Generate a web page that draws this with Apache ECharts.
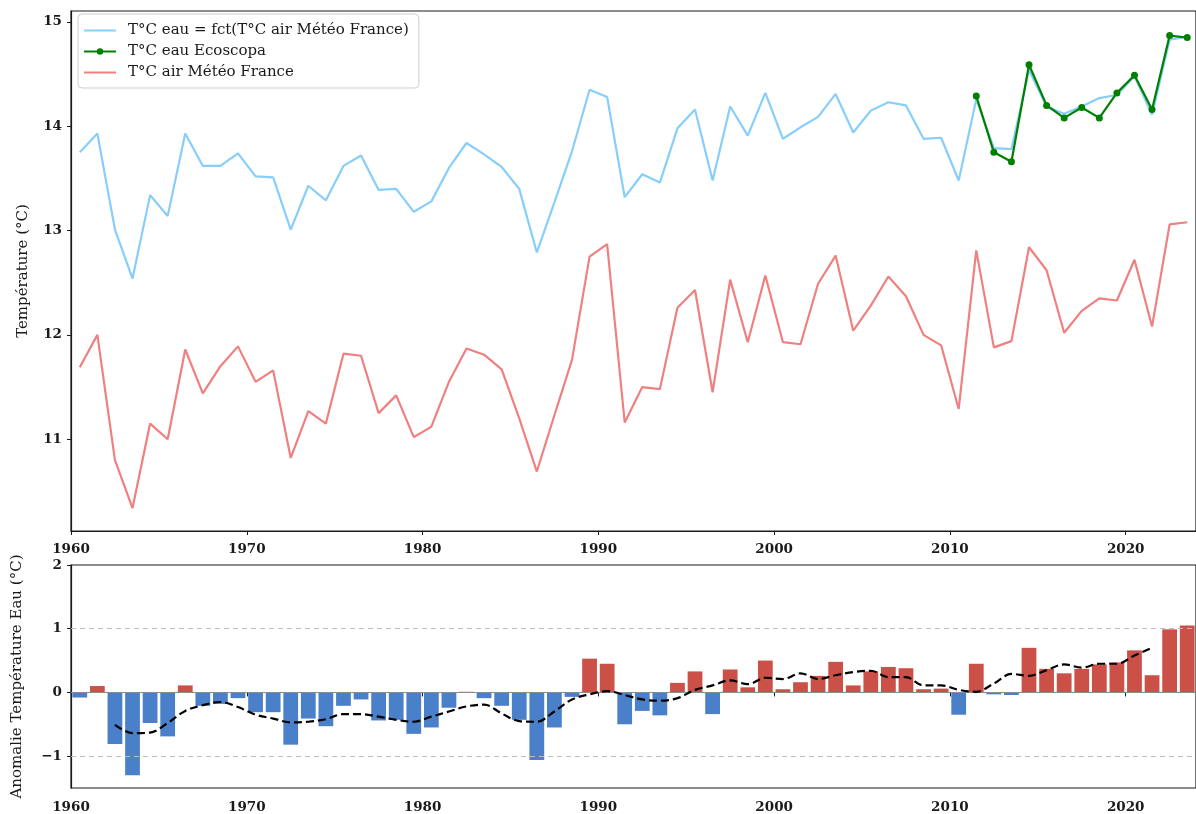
<!DOCTYPE html>
<html>
<head>
<meta charset="utf-8">
<script src="https://cdn.jsdelivr.net/npm/echarts@6/dist/echarts.min.js"></script>
<style>
  html, body { margin: 0; padding: 0; background: #fff; }
  #chart { width: 1196px; height: 814px; }
</style>
</head>
<body>
<div id="chart"></div>
<script>
// Annual series, 1960–2023
const years = [
  1960, 1961, 1962, 1963, 1964, 1965, 1966, 1967, 1968, 1969,
  1970, 1971, 1972, 1973, 1974, 1975, 1976, 1977, 1978, 1979,
  1980, 1981, 1982, 1983, 1984, 1985, 1986, 1987, 1988, 1989,
  1990, 1991, 1992, 1993, 1994, 1995, 1996, 1997, 1998, 1999,
  2000, 2001, 2002, 2003, 2004, 2005, 2006, 2007, 2008, 2009,
  2010, 2011, 2012, 2013, 2014, 2015, 2016, 2017, 2018, 2019,
  2020, 2021, 2022, 2023
];

// Water temperature modelled from Météo France air temperature (°C)
const waterModel = [
  13.75, 13.93, 13.01, 12.54, 13.34, 13.14, 13.93, 13.62, 13.62, 13.74,
  13.52, 13.51, 13.01, 13.43, 13.29, 13.62, 13.72, 13.39, 13.40, 13.18,
  13.28, 13.60, 13.84, 13.73, 13.61, 13.40, 12.79, 13.27, 13.76, 14.35,
  14.28, 13.32, 13.54, 13.46, 13.98, 14.16, 13.48, 14.19, 13.91, 14.32,
  13.88, 13.99, 14.09, 14.31, 13.94, 14.15, 14.23, 14.20, 13.88, 13.89,
  13.48, 14.26, 13.79, 13.78, 14.54, 14.19, 14.12, 14.19, 14.27, 14.30,
  14.48, 14.11, 14.83, 14.86
];

// Air temperature, Météo France (°C)
const airTemp = [
  11.69, 12.00, 10.80, 10.34, 11.15, 11.00, 11.86, 11.44, 11.70, 11.89,
  11.55, 11.66, 10.82, 11.27, 11.15, 11.82, 11.80, 11.25, 11.42, 11.02,
  11.12, 11.55, 11.87, 11.81, 11.67, 11.20, 10.69, 11.23, 11.76, 12.75,
  12.87, 11.16, 11.50, 11.48, 12.26, 12.43, 11.45, 12.53, 11.93, 12.57,
  11.93, 11.91, 12.49, 12.76, 12.04, 12.28, 12.56, 12.37, 12.00, 11.90,
  11.29, 12.81, 11.88, 11.94, 12.84, 12.62, 12.02, 12.23, 12.35, 12.33,
  12.72, 12.08, 13.06, 13.08
];

// Measured water temperature, Ecoscopa (°C)
const ecoYears = [2011, 2012, 2013, 2014, 2015, 2016, 2017, 2018, 2019, 2020, 2021, 2022, 2023];
const ecoWater = [14.29, 13.75, 13.66, 14.59, 14.20, 14.08, 14.18, 14.08, 14.32, 14.49, 14.16, 14.87, 14.85];

// Water temperature anomaly (°C)
const anomaly = [
  -0.08, 0.10, -0.81, -1.30, -0.48, -0.69, 0.11, -0.21, -0.18, -0.09,
  -0.31, -0.31, -0.82, -0.41, -0.53, -0.21, -0.11, -0.44, -0.43, -0.65,
  -0.55, -0.24, 0.01, -0.09, -0.21, -0.43, -1.06, -0.55, -0.07, 0.53,
  0.45, -0.50, -0.29, -0.36, 0.15, 0.33, -0.34, 0.36, 0.08, 0.50,
  0.05, 0.16, 0.26, 0.48, 0.11, 0.33, 0.40, 0.38, 0.05, 0.06,
  -0.35, 0.45, -0.03, -0.04, 0.70, 0.37, 0.30, 0.37, 0.44, 0.47,
  0.66, 0.27, 0.99, 1.05
];

// Five-year centred mean of the anomaly (°C)
const meanYears = [
  1962, 1963, 1964, 1965, 1966, 1967, 1968, 1969, 1970, 1971,
  1972, 1973, 1974, 1975, 1976, 1977, 1978, 1979, 1980, 1981,
  1982, 1983, 1984, 1985, 1986, 1987, 1988, 1989, 1990, 1991,
  1992, 1993, 1994, 1995, 1996, 1997, 1998, 1999, 2000, 2001,
  2002, 2003, 2004, 2005, 2006, 2007, 2008, 2009, 2010, 2011,
  2012, 2013, 2014, 2015, 2016, 2017, 2018, 2019, 2020, 2021
];
const anomalyMean = [
  -0.51, -0.64, -0.63, -0.48, -0.29, -0.20, -0.15, -0.23, -0.35, -0.41,
  -0.47, -0.46, -0.42, -0.34, -0.34, -0.38, -0.43, -0.46, -0.38, -0.30,
  -0.22, -0.19, -0.33, -0.45, -0.46, -0.30, -0.11, -0.03, 0.02, -0.04,
  -0.11, -0.13, -0.09, 0.04, 0.11, 0.19, 0.13, 0.23, 0.21, 0.30,
  0.21, 0.27, 0.32, 0.34, 0.24, 0.24, 0.11, 0.11, 0.04, 0.01,
  0.14, 0.29, 0.26, 0.35, 0.44, 0.39, 0.45, 0.45, 0.58, 0.70
];

const decadeTicks = [1960, 1970, 1980, 1990, 2000, 2010, 2020];
const tempTicks = [11, 12, 13, 14, 15];
const anomalyTicks = [-1, 0, 1, 2];

// Each annual value sits in the middle of its year
const mid = (ys, vs) => ys.map((y, i) => [y + 0.5, vs[i]]);

const FONT = 'DejaVu Serif';
const INK = '#1a1a1a';
const tickLabel = { fontFamily: FONT, fontSize: 13.5, fontWeight: 'bold', color: INK };
const plain = v => String(v).replace('-', '\u2212');

function xAxisFor(gridIndex, margin) {
  return {
    type: 'value', gridIndex, min: 1960, max: 2024,
    axisLine: { show: true, lineStyle: { color: INK, width: 1.2 } },
    axisTick: { show: true, inside: false, length: 4, customValues: decadeTicks, lineStyle: { color: INK } },
    axisLabel: Object.assign({ margin, customValues: decadeTicks, formatter: plain }, tickLabel),
    splitLine: { show: false }
  };
}

const NAME_WATER = 'T°C eau = fct(T°C air Météo France)';
const NAME_ECO = 'T°C eau Ecoscopa';
const NAME_AIR = 'T°C air Météo France';

const option = {
  animation: false,
  backgroundColor: '#fff',
  grid: [
    { left: 71, top: 11, width: 1130, height: 520, show: true, borderColor: INK, borderWidth: 1.2 },
    { left: 71, top: 565, width: 1130, height: 223, show: true, borderColor: INK, borderWidth: 1.2 }
  ],
  legend: {
    left: 78, top: 14, orient: 'vertical',
    padding: [9, 10, 8, 5], itemGap: 6, itemWidth: 32, itemHeight: 8,
    backgroundColor: '#fff', borderColor: '#cfcfcf', borderWidth: 1, borderRadius: 4,
    textStyle: { fontFamily: FONT, fontSize: 15, color: INK, padding: [0, 0, 0, 7] },
    data: [
      { name: NAME_WATER, itemStyle: { opacity: 0 } },
      { name: NAME_ECO },
      { name: NAME_AIR, itemStyle: { opacity: 0 } }
    ]
  },
  xAxis: [xAxisFor(0, 11), xAxisFor(1, 12)],
  yAxis: [
    {
      type: 'value', gridIndex: 0, min: 10.12, max: 15.105,
      name: 'Température (°C)', nameLocation: 'middle', nameGap: 40,
      nameTextStyle: { fontFamily: FONT, fontSize: 15, color: INK },
      axisLine: { show: true, lineStyle: { color: INK, width: 1.2 } },
      axisTick: { show: true, length: 4, customValues: tempTicks, lineStyle: { color: INK } },
      axisLabel: Object.assign({ margin: 9, customValues: tempTicks }, tickLabel),
      splitLine: { show: false }
    },
    {
      type: 'value', gridIndex: 1, min: -1.5, max: 2,
      name: 'Anomalie Température Eau (°C)', nameLocation: 'middle', nameGap: 46,
      nameTextStyle: { fontFamily: FONT, fontSize: 15, color: INK },
      axisLine: { show: true, lineStyle: { color: INK, width: 1.2 } },
      axisTick: { show: true, length: 4, customValues: anomalyTicks, lineStyle: { color: INK } },
      axisLabel: Object.assign({ margin: 9, customValues: anomalyTicks, formatter: plain }, tickLabel),
      splitLine: { show: false }
    }
  ],
  series: [
    {
      name: NAME_WATER, type: 'line',
      xAxisIndex: 0, yAxisIndex: 0, symbol: 'none',
      data: mid(years, waterModel),
      lineStyle: { color: '#87CEFA', width: 2.2 }, itemStyle: { color: '#87CEFA' }, z: 2
    },
    {
      name: NAME_ECO, type: 'line',
      xAxisIndex: 0, yAxisIndex: 0, symbol: 'circle', symbolSize: 7,
      data: mid(ecoYears, ecoWater),
      lineStyle: { color: '#008000', width: 2.2 }, itemStyle: { color: '#008000' }, z: 4
    },
    {
      name: NAME_AIR, type: 'line',
      xAxisIndex: 0, yAxisIndex: 0, symbol: 'none',
      data: mid(years, airTemp),
      lineStyle: { color: '#F08080', width: 2.2 }, itemStyle: { color: '#F08080' }, z: 2
    },
    {
      name: 'Anomalie', type: 'bar',
      xAxisIndex: 1, yAxisIndex: 1, barWidth: '84%',
      data: mid(years, anomaly),
      itemStyle: { color: p => (p.value[1] >= 0 ? '#CB5048' : '#4A80C9') },
      markLine: {
        silent: true, symbol: 'none', label: { show: false },
        data: [
          { yAxis: 1, lineStyle: { color: '#bdbdbd', type: [5, 4], width: 1 } },
          { yAxis: -1, lineStyle: { color: '#bdbdbd', type: [5, 4], width: 1 } },
          { yAxis: 0, lineStyle: { color: '#8c8c8c', type: 'solid', width: 1.2 } }
        ]
      },
      z: 2
    },
    {
      name: 'Moyenne glissante', type: 'line',
      xAxisIndex: 1, yAxisIndex: 1, symbol: 'none', smooth: 0.35,
      data: mid(meanYears, anomalyMean),
      lineStyle: { color: '#000', width: 2.2, type: [8, 4] }, z: 5
    }
  ]
};

echarts.init(document.getElementById('chart'), null, { renderer: 'canvas' }).setOption(option);
</script>
</body>
</html>
